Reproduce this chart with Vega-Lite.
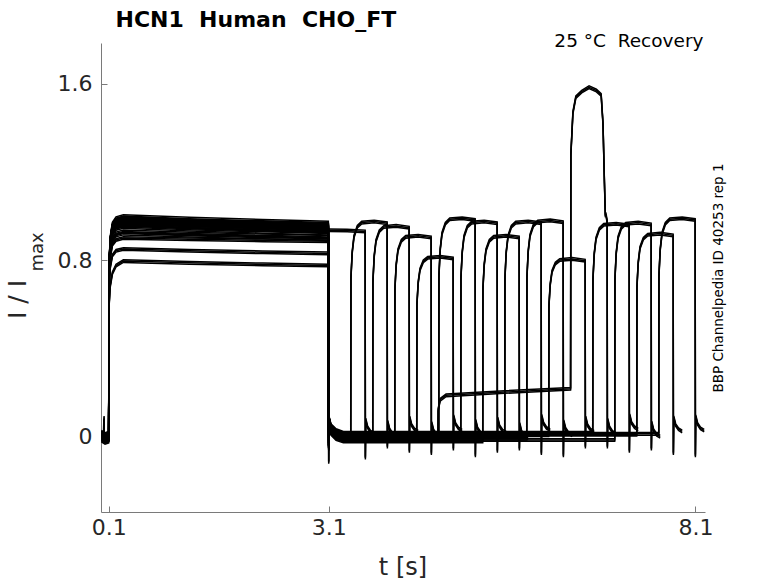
{
  "$schema": "https://vega.github.io/schema/vega-lite/v6.json",
  "width": 604,
  "height": 469,
  "autosize": {"type": "none"},
  "padding": {"left": 101, "top": 43, "right": 73, "bottom": 71},
  "config": {
    "view": {"stroke": null},
    "font": "DejaVu Sans",
    "axis": {
      "grid": false,
      "domainColor": "#7a7a7a",
      "tickColor": "#7a7a7a",
      "labelColor": "#262626",
      "titleColor": "#262626",
      "labelFont": "DejaVu Sans",
      "titleFont": "DejaVu Sans",
      "titleFontWeight": "normal",
      "labelFlush": false,
      "labelOverlap": false
    }
  },
  "datasets": {
    "traces": [
      {"s": 0, "t": 0, "v": 0.0}, {"s": 0, "t": 0.05, "v": -0.011}, {"s": 0, "t": 0.1, "v": -0.005},
      {"s": 0, "t": 0.103, "v": 0.733}, {"s": 0, "t": 0.12, "v": 0.869}, {"s": 0, "t": 0.15, "v": 0.931}, {"s": 0, "t": 0.2, "v": 0.955}, {"s": 0, "t": 0.3, "v": 0.965},
      {"s": 0, "t": 1.2, "v": 0.953}, {"s": 0, "t": 2.2, "v": 0.943}, {"s": 0, "t": 3.095, "v": 0.935},
      {"s": 0, "t": 3.35, "v": 0.934}, {"s": 0, "t": 3.597, "v": 0.93},
      {"s": 0, "t": 3.6, "v": -0.1}, {"s": 0, "t": 3.605, "v": 0.075}, {"s": 0, "t": 3.63, "v": 0.04}, {"s": 0, "t": 3.67, "v": 0.02}, {"s": 0, "t": 3.72, "v": 0.01},

      {"s": 1, "t": 0, "v": -0.01}, {"s": 1, "t": 0.05, "v": -0.021}, {"s": 1, "t": 0.1, "v": -0.015},
      {"s": 1, "t": 0.103, "v": 0.752}, {"s": 1, "t": 0.12, "v": 0.891}, {"s": 1, "t": 0.15, "v": 0.955}, {"s": 1, "t": 0.2, "v": 0.98}, {"s": 1, "t": 0.3, "v": 0.99},
      {"s": 1, "t": 1.2, "v": 0.978}, {"s": 1, "t": 2.2, "v": 0.968}, {"s": 1, "t": 3.095, "v": 0.96},
      {"s": 1, "t": 3.1, "v": -0.05}, {"s": 1, "t": 3.104, "v": 0.055}, {"s": 1, "t": 3.13, "v": 0.02}, {"s": 1, "t": 3.2, "v": -0.003}, {"s": 1, "t": 3.3, "v": -0.015},
      {"s": 1, "t": 3.4, "v": -0.015}, {"s": 1, "t": 3.403, "v": 0.718}, {"s": 1, "t": 3.42, "v": 0.834}, {"s": 1, "t": 3.445, "v": 0.907}, {"s": 1, "t": 3.49, "v": 0.951}, {"s": 1, "t": 3.55, "v": 0.97}, {"s": 1, "t": 3.72, "v": 0.975}, {"s": 1, "t": 3.897, "v": 0.967},
      {"s": 1, "t": 3.9, "v": -0.05}, {"s": 1, "t": 3.905, "v": 0.065}, {"s": 1, "t": 3.93, "v": 0.03}, {"s": 1, "t": 3.97, "v": 0.01}, {"s": 1, "t": 4.02, "v": 0.0},

      {"s": 2, "t": 0, "v": 0.01}, {"s": 2, "t": 0.05, "v": -0.001}, {"s": 2, "t": 0.1, "v": 0.005},
      {"s": 2, "t": 0.103, "v": 0.745}, {"s": 2, "t": 0.12, "v": 0.882}, {"s": 2, "t": 0.15, "v": 0.946}, {"s": 2, "t": 0.2, "v": 0.97}, {"s": 2, "t": 0.3, "v": 0.98},
      {"s": 2, "t": 1.2, "v": 0.968}, {"s": 2, "t": 2.2, "v": 0.958}, {"s": 2, "t": 3.095, "v": 0.95},
      {"s": 2, "t": 3.1, "v": -0.04}, {"s": 2, "t": 3.104, "v": 0.075}, {"s": 2, "t": 3.13, "v": 0.04}, {"s": 2, "t": 3.2, "v": 0.017}, {"s": 2, "t": 3.3, "v": 0.005},
      {"s": 2, "t": 3.7, "v": 0.005}, {"s": 2, "t": 3.703, "v": 0.703}, {"s": 2, "t": 3.72, "v": 0.817}, {"s": 2, "t": 3.745, "v": 0.888}, {"s": 2, "t": 3.79, "v": 0.931}, {"s": 2, "t": 3.85, "v": 0.95}, {"s": 2, "t": 4.02, "v": 0.955}, {"s": 2, "t": 4.197, "v": 0.947},
      {"s": 2, "t": 4.2, "v": -0.07}, {"s": 2, "t": 4.205, "v": 0.085}, {"s": 2, "t": 4.23, "v": 0.05}, {"s": 2, "t": 4.27, "v": 0.03}, {"s": 2, "t": 4.32, "v": 0.02},

      {"s": 3, "t": 0, "v": -0.015}, {"s": 3, "t": 0.035, "v": -0.02}, {"s": 3, "t": 0.037, "v": 0.085}, {"s": 3, "t": 0.04, "v": -0.02}, {"s": 3, "t": 0.05, "v": -0.026}, {"s": 3, "t": 0.1, "v": -0.02},
      {"s": 3, "t": 0.103, "v": 0.707}, {"s": 3, "t": 0.12, "v": 0.837}, {"s": 3, "t": 0.15, "v": 0.897}, {"s": 3, "t": 0.2, "v": 0.921}, {"s": 3, "t": 0.3, "v": 0.93},
      {"s": 3, "t": 1.2, "v": 0.92}, {"s": 3, "t": 2.2, "v": 0.912}, {"s": 3, "t": 3.095, "v": 0.905},
      {"s": 3, "t": 3.1, "v": -0.06}, {"s": 3, "t": 3.104, "v": 0.05}, {"s": 3, "t": 3.13, "v": 0.015}, {"s": 3, "t": 3.2, "v": -0.008}, {"s": 3, "t": 3.3, "v": -0.02},
      {"s": 3, "t": 4.0, "v": -0.02}, {"s": 3, "t": 4.003, "v": 0.67}, {"s": 3, "t": 4.02, "v": 0.778}, {"s": 3, "t": 4.045, "v": 0.846}, {"s": 3, "t": 4.09, "v": 0.887}, {"s": 3, "t": 4.15, "v": 0.905}, {"s": 3, "t": 4.32, "v": 0.91}, {"s": 3, "t": 4.497, "v": 0.902},
      {"s": 3, "t": 4.5, "v": -0.08}, {"s": 3, "t": 4.505, "v": 0.06}, {"s": 3, "t": 4.53, "v": 0.025}, {"s": 3, "t": 4.57, "v": 0.005}, {"s": 3, "t": 4.62, "v": -0.005},

      {"s": 4, "t": 0, "v": 0.015}, {"s": 4, "t": 0.05, "v": 0.004}, {"s": 4, "t": 0.1, "v": 0.01},
      {"s": 4, "t": 0.103, "v": 0.646}, {"s": 4, "t": 0.12, "v": 0.765}, {"s": 4, "t": 0.15, "v": 0.82}, {"s": 4, "t": 0.2, "v": 0.842}, {"s": 4, "t": 0.3, "v": 0.85},
      {"s": 4, "t": 1.2, "v": 0.842}, {"s": 4, "t": 2.2, "v": 0.835}, {"s": 4, "t": 3.095, "v": 0.83},
      {"s": 4, "t": 3.1, "v": -0.04}, {"s": 4, "t": 3.104, "v": 0.08}, {"s": 4, "t": 3.13, "v": 0.045}, {"s": 4, "t": 3.2, "v": 0.022}, {"s": 4, "t": 3.3, "v": 0.01},
      {"s": 4, "t": 4.3, "v": 0.01}, {"s": 4, "t": 4.303, "v": 0.599}, {"s": 4, "t": 4.32, "v": 0.697}, {"s": 4, "t": 4.345, "v": 0.757}, {"s": 4, "t": 4.39, "v": 0.794}, {"s": 4, "t": 4.45, "v": 0.81}, {"s": 4, "t": 4.62, "v": 0.815}, {"s": 4, "t": 4.797, "v": 0.807},
      {"s": 4, "t": 4.8, "v": -0.06}, {"s": 4, "t": 4.805, "v": 0.09}, {"s": 4, "t": 4.83, "v": 0.055}, {"s": 4, "t": 4.87, "v": 0.035}, {"s": 4, "t": 4.92, "v": 0.025},

      {"s": 5, "t": 0, "v": -0.005}, {"s": 5, "t": 0.05, "v": -0.016}, {"s": 5, "t": 0.1, "v": -0.01},
      {"s": 5, "t": 0.103, "v": 0.76}, {"s": 5, "t": 0.12, "v": 0.9}, {"s": 5, "t": 0.15, "v": 0.965}, {"s": 5, "t": 0.2, "v": 0.99}, {"s": 5, "t": 0.3, "v": 1.0},
      {"s": 5, "t": 1.2, "v": 0.988}, {"s": 5, "t": 2.2, "v": 0.978}, {"s": 5, "t": 3.095, "v": 0.97},
      {"s": 5, "t": 3.1, "v": -0.05}, {"s": 5, "t": 3.104, "v": 0.06}, {"s": 5, "t": 3.13, "v": 0.025}, {"s": 5, "t": 3.2, "v": 0.002}, {"s": 5, "t": 3.3, "v": -0.01},
      {"s": 5, "t": 4.6, "v": -0.01}, {"s": 5, "t": 4.603, "v": 0.729}, {"s": 5, "t": 4.62, "v": 0.847}, {"s": 5, "t": 4.645, "v": 0.921}, {"s": 5, "t": 4.69, "v": 0.965}, {"s": 5, "t": 4.75, "v": 0.985}, {"s": 5, "t": 4.92, "v": 0.99}, {"s": 5, "t": 5.097, "v": 0.982},
      {"s": 5, "t": 5.1, "v": -0.09}, {"s": 5, "t": 5.105, "v": 0.07}, {"s": 5, "t": 5.13, "v": 0.035}, {"s": 5, "t": 5.17, "v": 0.015}, {"s": 5, "t": 5.22, "v": 0.005},

      {"s": 6, "t": 0, "v": 0.005}, {"s": 6, "t": 0.05, "v": -0.006}, {"s": 6, "t": 0.1, "v": 0.0},
      {"s": 6, "t": 0.103, "v": 0.752}, {"s": 6, "t": 0.12, "v": 0.891}, {"s": 6, "t": 0.15, "v": 0.955}, {"s": 6, "t": 0.2, "v": 0.98}, {"s": 6, "t": 0.3, "v": 0.99},
      {"s": 6, "t": 1.2, "v": 0.976}, {"s": 6, "t": 2.2, "v": 0.965}, {"s": 6, "t": 3.095, "v": 0.955},
      {"s": 6, "t": 3.1, "v": -0.03}, {"s": 6, "t": 3.104, "v": 0.07}, {"s": 6, "t": 3.13, "v": 0.035}, {"s": 6, "t": 3.2, "v": 0.012}, {"s": 6, "t": 3.3, "v": 0.0},
      {"s": 6, "t": 4.9, "v": 0.0}, {"s": 6, "t": 4.903, "v": 0.718}, {"s": 6, "t": 4.92, "v": 0.834}, {"s": 6, "t": 4.945, "v": 0.907}, {"s": 6, "t": 4.99, "v": 0.951}, {"s": 6, "t": 5.05, "v": 0.97}, {"s": 6, "t": 5.22, "v": 0.975}, {"s": 6, "t": 5.397, "v": 0.967},
      {"s": 6, "t": 5.4, "v": -0.07}, {"s": 6, "t": 5.405, "v": 0.08}, {"s": 6, "t": 5.43, "v": 0.045}, {"s": 6, "t": 5.47, "v": 0.025}, {"s": 6, "t": 5.52, "v": 0.015},

      {"s": 7, "t": 0, "v": -0.02}, {"s": 7, "t": 0.05, "v": -0.031}, {"s": 7, "t": 0.1, "v": -0.025},
      {"s": 7, "t": 0.103, "v": 0.699}, {"s": 7, "t": 0.12, "v": 0.828}, {"s": 7, "t": 0.15, "v": 0.888}, {"s": 7, "t": 0.2, "v": 0.911}, {"s": 7, "t": 0.3, "v": 0.92},
      {"s": 7, "t": 1.2, "v": 0.91}, {"s": 7, "t": 2.2, "v": 0.902}, {"s": 7, "t": 3.095, "v": 0.895},
      {"s": 7, "t": 3.1, "v": -0.05}, {"s": 7, "t": 3.104, "v": 0.045}, {"s": 7, "t": 3.13, "v": 0.01}, {"s": 7, "t": 3.2, "v": -0.013}, {"s": 7, "t": 3.3, "v": -0.025},
      {"s": 7, "t": 5.2, "v": -0.025}, {"s": 7, "t": 5.203, "v": 0.67}, {"s": 7, "t": 5.22, "v": 0.778}, {"s": 7, "t": 5.245, "v": 0.846}, {"s": 7, "t": 5.29, "v": 0.887}, {"s": 7, "t": 5.35, "v": 0.905}, {"s": 7, "t": 5.52, "v": 0.91}, {"s": 7, "t": 5.697, "v": 0.902},
      {"s": 7, "t": 5.7, "v": -0.06}, {"s": 7, "t": 5.705, "v": 0.055}, {"s": 7, "t": 5.73, "v": 0.02}, {"s": 7, "t": 5.77, "v": 0.0}, {"s": 7, "t": 5.82, "v": -0.01},

      {"s": 8, "t": 0, "v": 0.017}, {"s": 8, "t": 0.05, "v": 0.006}, {"s": 8, "t": 0.1, "v": 0.012},
      {"s": 8, "t": 0.103, "v": 0.749}, {"s": 8, "t": 0.12, "v": 0.887}, {"s": 8, "t": 0.15, "v": 0.951}, {"s": 8, "t": 0.2, "v": 0.975}, {"s": 8, "t": 0.3, "v": 0.985},
      {"s": 8, "t": 1.2, "v": 0.971}, {"s": 8, "t": 2.2, "v": 0.96}, {"s": 8, "t": 3.095, "v": 0.95},
      {"s": 8, "t": 3.1, "v": -0.04}, {"s": 8, "t": 3.104, "v": 0.082}, {"s": 8, "t": 3.13, "v": 0.047}, {"s": 8, "t": 3.2, "v": 0.024}, {"s": 8, "t": 3.3, "v": 0.012},
      {"s": 8, "t": 5.5, "v": 0.012}, {"s": 8, "t": 5.503, "v": 0.718}, {"s": 8, "t": 5.52, "v": 0.834}, {"s": 8, "t": 5.545, "v": 0.907}, {"s": 8, "t": 5.59, "v": 0.951}, {"s": 8, "t": 5.65, "v": 0.97}, {"s": 8, "t": 5.82, "v": 0.975}, {"s": 8, "t": 5.997, "v": 0.967},
      {"s": 8, "t": 6.0, "v": -0.08}, {"s": 8, "t": 6.005, "v": 0.092}, {"s": 8, "t": 6.03, "v": 0.057}, {"s": 8, "t": 6.07, "v": 0.037}, {"s": 8, "t": 6.12, "v": 0.027},

      {"s": 9, "t": 0, "v": -0.007}, {"s": 9, "t": 0.03, "v": -0.012}, {"s": 9, "t": 0.033, "v": 0.07}, {"s": 9, "t": 0.036, "v": -0.012}, {"s": 9, "t": 0.05, "v": -0.018}, {"s": 9, "t": 0.1, "v": -0.012},
      {"s": 9, "t": 0.103, "v": 0.741}, {"s": 9, "t": 0.12, "v": 0.878}, {"s": 9, "t": 0.15, "v": 0.941}, {"s": 9, "t": 0.2, "v": 0.965}, {"s": 9, "t": 0.3, "v": 0.975},
      {"s": 9, "t": 1.2, "v": 0.963}, {"s": 9, "t": 2.2, "v": 0.953}, {"s": 9, "t": 3.095, "v": 0.945},
      {"s": 9, "t": 3.1, "v": -0.06}, {"s": 9, "t": 3.104, "v": 0.058}, {"s": 9, "t": 3.13, "v": 0.023}, {"s": 9, "t": 3.2, "v": 0.0}, {"s": 9, "t": 3.3, "v": -0.012},
      {"s": 9, "t": 5.8, "v": -0.012}, {"s": 9, "t": 5.803, "v": 0.722}, {"s": 9, "t": 5.82, "v": 0.839}, {"s": 9, "t": 5.845, "v": 0.912}, {"s": 9, "t": 5.89, "v": 0.956}, {"s": 9, "t": 5.95, "v": 0.975}, {"s": 9, "t": 6.12, "v": 0.98}, {"s": 9, "t": 6.297, "v": 0.972},
      {"s": 9, "t": 6.3, "v": -0.09}, {"s": 9, "t": 6.305, "v": 0.068}, {"s": 9, "t": 6.33, "v": 0.033}, {"s": 9, "t": 6.37, "v": 0.013}, {"s": 9, "t": 6.42, "v": 0.003},

      {"s": 10, "t": 0, "v": 0.009}, {"s": 10, "t": 0.05, "v": -0.002}, {"s": 10, "t": 0.1, "v": 0.004},
      {"s": 10, "t": 0.103, "v": 0.58}, {"s": 10, "t": 0.12, "v": 0.68}, {"s": 10, "t": 0.15, "v": 0.74}, {"s": 10, "t": 0.2, "v": 0.775}, {"s": 10, "t": 0.3, "v": 0.795},
      {"s": 10, "t": 1.2, "v": 0.787}, {"s": 10, "t": 2.2, "v": 0.78}, {"s": 10, "t": 3.095, "v": 0.775},
      {"s": 10, "t": 3.1, "v": -0.12}, {"s": 10, "t": 3.104, "v": 0.074}, {"s": 10, "t": 3.13, "v": 0.039}, {"s": 10, "t": 3.2, "v": 0.016}, {"s": 10, "t": 3.3, "v": 0.004},
      {"s": 10, "t": 6.1, "v": 0.004}, {"s": 10, "t": 6.103, "v": 0.592}, {"s": 10, "t": 6.12, "v": 0.688}, {"s": 10, "t": 6.145, "v": 0.748}, {"s": 10, "t": 6.19, "v": 0.784}, {"s": 10, "t": 6.25, "v": 0.8}, {"s": 10, "t": 6.42, "v": 0.805}, {"s": 10, "t": 6.597, "v": 0.797},
      {"s": 10, "t": 6.6, "v": -0.05}, {"s": 10, "t": 6.605, "v": 0.084}, {"s": 10, "t": 6.63, "v": 0.049}, {"s": 10, "t": 6.67, "v": 0.029}, {"s": 10, "t": 6.72, "v": 0.019},

      {"s": 11, "t": 0, "v": -0.001}, {"s": 11, "t": 0.05, "v": -0.012}, {"s": 11, "t": 0.1, "v": -0.006},
      {"s": 11, "t": 0.103, "v": 0.722}, {"s": 11, "t": 0.12, "v": 0.855}, {"s": 11, "t": 0.15, "v": 0.917}, {"s": 11, "t": 0.2, "v": 0.941}, {"s": 11, "t": 0.3, "v": 0.95},
      {"s": 11, "t": 1.2, "v": 0.938}, {"s": 11, "t": 2.2, "v": 0.928}, {"s": 11, "t": 3.095, "v": 0.92},
      {"s": 11, "t": 3.1, "v": -0.04}, {"s": 11, "t": 3.104, "v": 0.064}, {"s": 11, "t": 3.13, "v": 0.029}, {"s": 11, "t": 3.2, "v": 0.006}, {"s": 11, "t": 3.3, "v": -0.006},
      {"s": 11, "t": 4.59, "v": -0.006}, {"s": 11, "t": 4.593, "v": 0.12}, {"s": 11, "t": 4.62, "v": 0.165}, {"s": 11, "t": 4.7, "v": 0.185}, {"s": 11, "t": 5.5, "v": 0.2}, {"s": 11, "t": 6.398, "v": 0.215},
      {"s": 11, "t": 6.402, "v": 1.28}, {"s": 11, "t": 6.43, "v": 1.47}, {"s": 11, "t": 6.47, "v": 1.54}, {"s": 11, "t": 6.55, "v": 1.565}, {"s": 11, "t": 6.65, "v": 1.585}, {"s": 11, "t": 6.75, "v": 1.57}, {"s": 11, "t": 6.815, "v": 1.55},
      {"s": 11, "t": 6.84, "v": 1.42}, {"s": 11, "t": 6.86, "v": 1.15}, {"s": 11, "t": 6.872, "v": 1.0}, {"s": 11, "t": 6.878, "v": 1.01}, {"s": 11, "t": 6.897, "v": 0.975},
      {"s": 11, "t": 6.9, "v": -0.05}, {"s": 11, "t": 6.905, "v": 0.074}, {"s": 11, "t": 6.93, "v": 0.039}, {"s": 11, "t": 6.97, "v": 0.019}, {"s": 11, "t": 7.02, "v": 0.009},

      {"s": 12, "t": 0, "v": 0.02}, {"s": 12, "t": 0.05, "v": 0.009}, {"s": 12, "t": 0.1, "v": 0.015},
      {"s": 12, "t": 0.103, "v": 0.737}, {"s": 12, "t": 0.12, "v": 0.873}, {"s": 12, "t": 0.15, "v": 0.936}, {"s": 12, "t": 0.2, "v": 0.96}, {"s": 12, "t": 0.3, "v": 0.97},
      {"s": 12, "t": 1.2, "v": 0.958}, {"s": 12, "t": 2.2, "v": 0.948}, {"s": 12, "t": 3.095, "v": 0.94},
      {"s": 12, "t": 3.1, "v": -0.05}, {"s": 12, "t": 3.104, "v": 0.085}, {"s": 12, "t": 3.13, "v": 0.05}, {"s": 12, "t": 3.2, "v": 0.027}, {"s": 12, "t": 3.3, "v": 0.015},
      {"s": 12, "t": 6.7, "v": 0.015}, {"s": 12, "t": 6.703, "v": 0.71}, {"s": 12, "t": 6.72, "v": 0.826}, {"s": 12, "t": 6.745, "v": 0.898}, {"s": 12, "t": 6.79, "v": 0.941}, {"s": 12, "t": 6.85, "v": 0.96}, {"s": 12, "t": 7.02, "v": 0.965}, {"s": 12, "t": 7.197, "v": 0.957},
      {"s": 12, "t": 7.2, "v": -0.07}, {"s": 12, "t": 7.205, "v": 0.095}, {"s": 12, "t": 7.23, "v": 0.06}, {"s": 12, "t": 7.27, "v": 0.04}, {"s": 12, "t": 7.32, "v": 0.03},

      {"s": 13, "t": 0, "v": -0.013}, {"s": 13, "t": 0.05, "v": -0.024}, {"s": 13, "t": 0.1, "v": -0.018},
      {"s": 13, "t": 0.103, "v": 0.73}, {"s": 13, "t": 0.12, "v": 0.864}, {"s": 13, "t": 0.15, "v": 0.926}, {"s": 13, "t": 0.2, "v": 0.95}, {"s": 13, "t": 0.3, "v": 0.96},
      {"s": 13, "t": 1.2, "v": 0.948}, {"s": 13, "t": 2.2, "v": 0.938}, {"s": 13, "t": 3.095, "v": 0.93},
      {"s": 13, "t": 3.1, "v": -0.04}, {"s": 13, "t": 3.104, "v": 0.052}, {"s": 13, "t": 3.13, "v": 0.017}, {"s": 13, "t": 3.2, "v": -0.006}, {"s": 13, "t": 3.3, "v": -0.018},
      {"s": 13, "t": 7.0, "v": -0.018}, {"s": 13, "t": 7.003, "v": 0.714}, {"s": 13, "t": 7.02, "v": 0.83}, {"s": 13, "t": 7.045, "v": 0.902}, {"s": 13, "t": 7.09, "v": 0.946}, {"s": 13, "t": 7.15, "v": 0.965}, {"s": 13, "t": 7.32, "v": 0.97}, {"s": 13, "t": 7.497, "v": 0.962},
      {"s": 13, "t": 7.5, "v": -0.06}, {"s": 13, "t": 7.505, "v": 0.062}, {"s": 13, "t": 7.53, "v": 0.027}, {"s": 13, "t": 7.57, "v": 0.007}, {"s": 13, "t": 7.62, "v": -0.003},

      {"s": 14, "t": 0, "v": 0.011}, {"s": 14, "t": 0.05, "v": 0.0}, {"s": 14, "t": 0.1, "v": 0.006},
      {"s": 14, "t": 0.103, "v": 0.684}, {"s": 14, "t": 0.12, "v": 0.81}, {"s": 14, "t": 0.15, "v": 0.869}, {"s": 14, "t": 0.2, "v": 0.891}, {"s": 14, "t": 0.3, "v": 0.9},
      {"s": 14, "t": 1.2, "v": 0.894}, {"s": 14, "t": 2.2, "v": 0.889}, {"s": 14, "t": 3.095, "v": 0.885},
      {"s": 14, "t": 3.1, "v": -0.05}, {"s": 14, "t": 3.104, "v": 0.076}, {"s": 14, "t": 3.13, "v": 0.041}, {"s": 14, "t": 3.2, "v": 0.018}, {"s": 14, "t": 3.3, "v": 0.006},
      {"s": 14, "t": 7.3, "v": 0.006}, {"s": 14, "t": 7.303, "v": 0.677}, {"s": 14, "t": 7.32, "v": 0.787}, {"s": 14, "t": 7.345, "v": 0.856}, {"s": 14, "t": 7.39, "v": 0.897}, {"s": 14, "t": 7.45, "v": 0.915}, {"s": 14, "t": 7.62, "v": 0.92}, {"s": 14, "t": 7.797, "v": 0.912},
      {"s": 14, "t": 7.8, "v": -0.08}, {"s": 14, "t": 7.805, "v": 0.086}, {"s": 14, "t": 7.83, "v": 0.051}, {"s": 14, "t": 7.87, "v": 0.031}, {"s": 14, "t": 7.92, "v": 0.021},

      {"s": 15, "t": 0, "v": 0.015}, {"s": 15, "t": 0.05, "v": 0.004}, {"s": 15, "t": 0.1, "v": 0.01},
      {"s": 15, "t": 0.103, "v": 0.752}, {"s": 15, "t": 0.12, "v": 0.891}, {"s": 15, "t": 0.15, "v": 0.955}, {"s": 15, "t": 0.2, "v": 0.98}, {"s": 15, "t": 0.3, "v": 0.99},
      {"s": 15, "t": 1.2, "v": 0.978}, {"s": 15, "t": 2.2, "v": 0.968}, {"s": 15, "t": 3.095, "v": 0.96},
      {"s": 15, "t": 3.1, "v": -0.04}, {"s": 15, "t": 3.104, "v": 0.08}, {"s": 15, "t": 3.13, "v": 0.045}, {"s": 15, "t": 3.2, "v": 0.022}, {"s": 15, "t": 3.3, "v": 0.01},
      {"s": 15, "t": 7.6, "v": 0.01}, {"s": 15, "t": 7.603, "v": 0.729}, {"s": 15, "t": 7.62, "v": 0.847}, {"s": 15, "t": 7.645, "v": 0.921}, {"s": 15, "t": 7.69, "v": 0.965}, {"s": 15, "t": 7.75, "v": 0.985}, {"s": 15, "t": 7.92, "v": 0.99}, {"s": 15, "t": 8.097, "v": 0.982},
      {"s": 15, "t": 8.1, "v": -0.09}, {"s": 15, "t": 8.105, "v": 0.09}, {"s": 15, "t": 8.13, "v": 0.055}, {"s": 15, "t": 8.17, "v": 0.035}, {"s": 15, "t": 8.22, "v": 0.025}
    ]
  },
  "resolve": {"axis": {"x": "independent", "y": "independent"}},
  "layer": [
    {
      "data": {"name": "traces"},
      "mark": {"type": "line", "color": "#000000", "strokeWidth": 1.5, "yOffset": -1.3, "clip": true},
      "encoding": {
        "x": {"field": "t", "type": "quantitative", "scale": {"domain": [-0.005, 8.231], "nice": false, "zero": false}, "axis": null},
        "y": {"field": "v", "type": "quantitative", "scale": {"domain": [-0.345, 1.786], "nice": false, "zero": false}, "axis": null},
        "detail": {"field": "s", "type": "nominal"}
      }
    },
    {
      "data": {"name": "traces"},
      "mark": {"type": "line", "color": "#000000", "strokeWidth": 1.5, "yOffset": 1.3, "clip": true},
      "encoding": {
        "x": {"field": "t", "type": "quantitative", "scale": {"domain": [-0.005, 8.231], "nice": false, "zero": false}, "axis": null},
        "y": {"field": "v", "type": "quantitative", "scale": {"domain": [-0.345, 1.786], "nice": false, "zero": false}, "axis": null},
        "detail": {"field": "s", "type": "nominal"}
      }
    },
    {
      "data": {"name": "traces"},
      "mark": {"type": "line", "color": "#000000", "strokeWidth": 1.5, "clip": true},
      "encoding": {
        "x": {
          "field": "t",
          "type": "quantitative",
          "scale": {"domain": [-0.005, 8.231], "nice": false, "zero": false},
          "axis": {
            "orient": "bottom",
            "values": [0.1, 3.1, 8.1],
            "format": ".1f",
            "tickSize": -6,
            "labelFontSize": 22,
            "labelPadding": 11,
            "title": "t [s]",
            "titleFontSize": 24,
            "titleX": 301.5,
            "titleY": 62,
            "titleAlign": "center",
            "titleBaseline": "alphabetic"
          }
        },
        "y": {
          "field": "v",
          "type": "quantitative",
          "scale": {"domain": [-0.345, 1.786], "nice": false, "zero": false},
          "axis": {
            "orient": "left",
            "values": [0, 0.8, 1.6],
            "format": ".1~f",
            "tickSize": -6,
            "labelFontSize": 22,
            "labelPadding": 15,
            "title": "I / I",
            "titleFontSize": 25,
            "titleAngle": 270,
            "titleX": -76,
            "titleY": 256,
            "titleAlign": "center",
            "titleBaseline": "alphabetic"
          }
        },
        "detail": {"field": "s", "type": "nominal"}
      }
    },
    {
      "data": {"values": []},
      "mark": {"type": "point", "opacity": 0},
      "encoding": {
        "x": {
          "field": "t",
          "type": "quantitative",
          "scale": {"domain": [-0.005, 8.231], "nice": false, "zero": false},
          "axis": {
            "orient": "top",
            "domain": false,
            "ticks": false,
            "labels": false,
            "title": "25 °C\u00a0 Recovery",
            "titleFontSize": 18.5,
            "titleColor": "#000000",
            "titleX": 602,
            "titleY": 3.7,
            "titleAlign": "right",
            "titleBaseline": "alphabetic"
          }
        },
        "y": {
          "field": "v",
          "type": "quantitative",
          "scale": {"domain": [-0.345, 1.786], "nice": false, "zero": false},
          "axis": {
            "orient": "left",
            "domain": false,
            "ticks": false,
            "labels": false,
            "title": "max",
            "titleFontSize": 18,
            "titleAngle": 270,
            "titleX": -59,
            "titleY": 208.5,
            "titleAlign": "center",
            "titleBaseline": "alphabetic"
          }
        }
      }
    },
    {
      "data": {"values": []},
      "mark": {"type": "point", "opacity": 0},
      "encoding": {
        "x": {
          "field": "t",
          "type": "quantitative",
          "scale": {"domain": [-0.005, 8.231], "nice": false, "zero": false},
          "axis": {
            "orient": "top",
            "domain": false,
            "ticks": false,
            "labels": false,
            "title": "HCN1\u00a0 Human\u00a0 CHO_FT",
            "titleFontSize": 22,
            "titleFontWeight": "bold",
            "titleColor": "#000000",
            "titleX": 14,
            "titleY": -16.3,
            "titleAlign": "left",
            "titleBaseline": "alphabetic"
          }
        },
        "y": {
          "field": "v",
          "type": "quantitative",
          "scale": {"domain": [-0.345, 1.786], "nice": false, "zero": false},
          "axis": {
            "orient": "right",
            "domain": false,
            "ticks": false,
            "labels": false,
            "title": "BBP Channelpedia ID 40253 rep 1",
            "titleFontSize": 13.5,
            "titleColor": "#000000",
            "titleAngle": 270,
            "titleX": 17,
            "titleY": 234.5,
            "titleAlign": "center",
            "titleBaseline": "alphabetic"
          }
        }
      }
    }
  ]
}
